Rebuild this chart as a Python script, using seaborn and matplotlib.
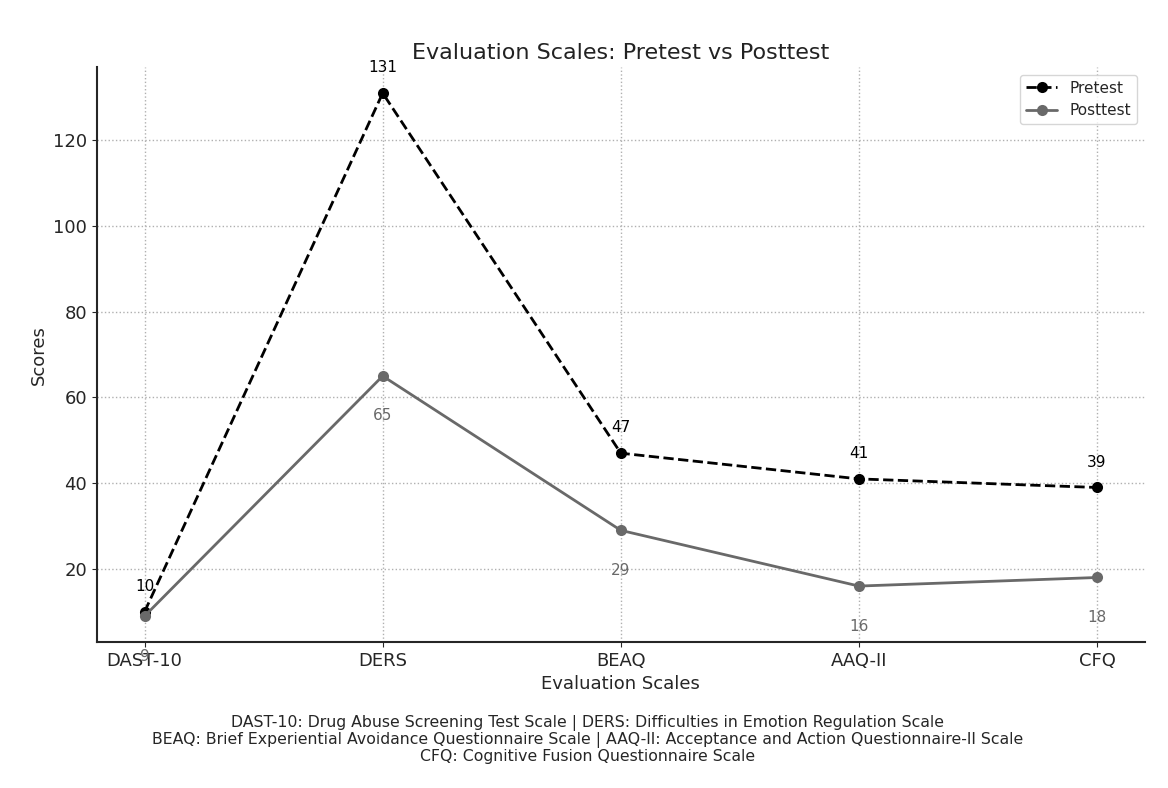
import pandas as pd
import matplotlib.pyplot as plt
import seaborn as sns

scales = ["DAST-10", "DERS", "BEAQ", "AAQ-II", "CFQ"]
pretest = [10, 131, 47, 41, 39]
posttest = [9, 65, 29, 16, 18]

df = pd.DataFrame({"scale": scales, "Pretest": pretest, "Posttest": posttest})

sns.set_style("ticks")
plt.rcParams['font.family'] = ['DejaVu Sans']

fig, ax = plt.subplots(figsize=(11.68, 7.88), dpi=100)
fig.subplots_adjust(left=0.083, right=0.98, top=0.915, bottom=0.185)

sns.lineplot(data=df, x="scale", y="Pretest", ax=ax, color="black", linestyle="--",
             marker="o", markersize=8, markeredgewidth=0, linewidth=2,
             label="Pretest", sort=False)
sns.lineplot(data=df, x="scale", y="Posttest", ax=ax, color="dimgray", linestyle="-",
             marker="o", markersize=8, markeredgewidth=0, linewidth=2,
             label="Posttest", sort=False)

for i, v in enumerate(pretest):
    ax.annotate(str(v), (i, v), textcoords="offset points", xytext=(0, 15),
                ha="center", fontsize=11, color="black")
for i, v in enumerate(posttest):
    ax.annotate(str(v), (i, v), textcoords="offset points", xytext=(0, -32),
                ha="center", fontsize=11, color="dimgray")

ax.set_title("Evaluation Scales: Pretest vs Posttest", fontsize=16, color="#222222")
ax.set_xlabel("Evaluation Scales", fontsize=13)
ax.set_ylabel("Scores", fontsize=13)
ax.tick_params(labelsize=13)
ax.grid(True, linestyle=":", color="#b0b0b0", linewidth=1)
sns.despine(ax=ax)
ax.spines["left"].set_linewidth(1.5)
ax.spines["bottom"].set_linewidth(1.5)
ax.legend(loc="upper right", fontsize=11)

fig.text(0.503, 0.03,
         "DAST-10: Drug Abuse Screening Test Scale | DERS: Difficulties in Emotion Regulation Scale\n"
         "BEAQ: Brief Experiential Avoidance Questionnaire Scale | AAQ-II: Acceptance and Action Questionnaire-II Scale\n"
         "CFQ: Cognitive Fusion Questionnaire Scale",
         ha="center", va="bottom", fontsize=11.3, linespacing=1.1)

plt.savefig("out.png", dpi=100)
